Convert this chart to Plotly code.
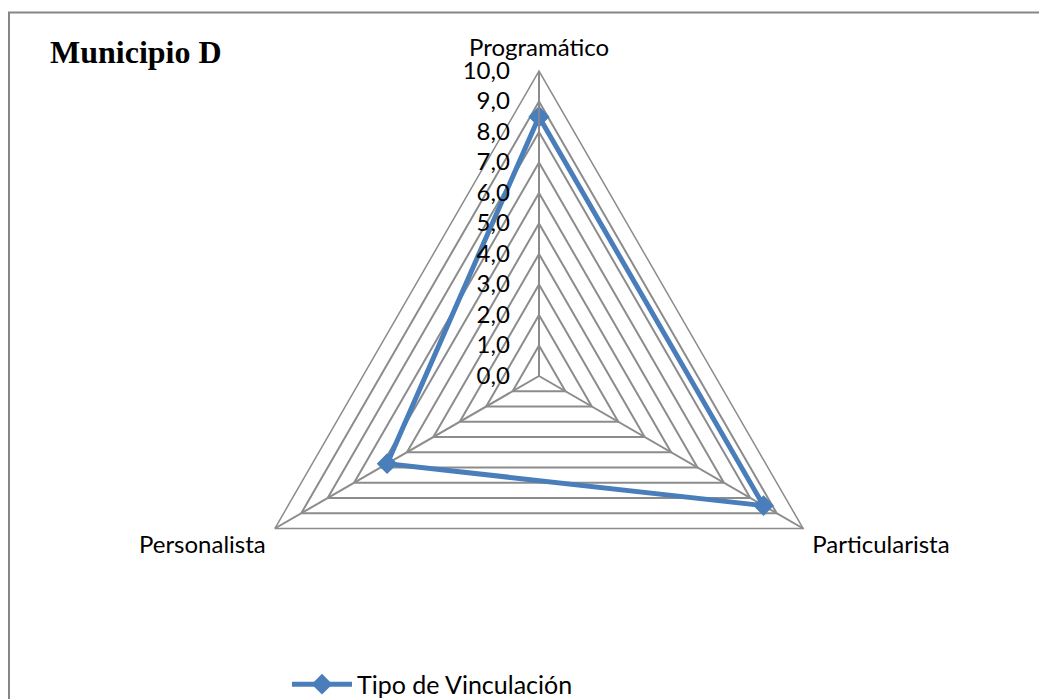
import plotly.graph_objects as go

categories = ["Programático", "Particularista", "Personalista"]
values = [8.5, 8.5, 5.75]
series_name = "Tipo de Vinculación"
radial_ticks = [0, 1, 2, 3, 4, 5, 6, 7, 8, 9, 10]
radial_tick_text = ["0,0", "1,0", "2,0", "3,0", "4,0", "5,0", "6,0", "7,0", "8,0", "9,0", "10,0"]

W, H = 1039, 699
cx, cy, R = 539, 376, 305

blue = "#4A7EBB"
grid = "#8C8C8C"
label_font = dict(family="Lato", size=24, color="#000000")

fig = go.Figure()
fig.add_trace(go.Scatterpolar(
    r=values + values[:1],
    theta=categories + categories[:1],
    mode="lines+markers",
    name=series_name,
    line=dict(color=blue, width=5),
    marker=dict(symbol="diamond", size=16, color=blue),
))

fig.update_layout(
    width=W, height=H,
    margin=dict(l=0, r=0, t=0, b=0, autoexpand=False),
    paper_bgcolor="white",
    plot_bgcolor="white",
    showlegend=True,
    polar=dict(
        domain=dict(x=[(cx - R) / W, (cx + R) / W], y=[1 - (cy + R) / H, 1 - (cy - R) / H]),
        gridshape="linear",
        bgcolor="white",
        angularaxis=dict(
            rotation=90, direction="clockwise",
            showline=True, linecolor=grid, linewidth=1.5,
            gridcolor=grid, gridwidth=1.5,
            ticks="outside", ticklen=5, tickcolor="rgba(0,0,0,0)",
            tickfont=label_font,
        ),
        radialaxis=dict(
            range=[0, 10], tickvals=radial_ticks, ticktext=radial_tick_text,
            angle=90, tickangle=90, side="counterclockwise",
            showline=True, linecolor=grid, linewidth=1.5,
            gridcolor=grid, gridwidth=1.5,
            ticks="outside", ticklen=20, tickcolor="rgba(0,0,0,0)",
            tickfont=label_font,
        ),
    ),
    legend=dict(
        orientation="h", x=287 / W, xanchor="left", y=-0.012, yanchor="bottom",
        font=dict(family="Lato", size=25, color="#000000"),
        itemwidth=60, bgcolor="rgba(0,0,0,0)",
    ),
    title=dict(
        text="<b>Municipio D</b>", x=50 / W, xanchor="left", y=1 - 52 / H, yanchor="middle",
        font=dict(family="Liberation Serif", size=32, color="#000000"),
    ),
    shapes=[dict(
        type="rect", xref="paper", yref="paper",
        x0=9 / W, x1=1.02, y0=-0.02, y1=1 - 12.5 / H,
        line=dict(color="#868686", width=2), fillcolor="rgba(0,0,0,0)", layer="below",
    )],
)

fig.write_html("out.html")
